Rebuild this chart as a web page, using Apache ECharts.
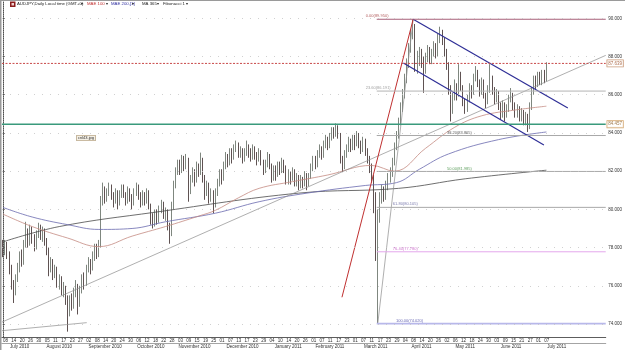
<!DOCTYPE html>
<html><head><meta charset="utf-8">
<script src="https://cdn.jsdelivr.net/npm/echarts@6/dist/echarts.min.js"></script>
<style>html,body{margin:0;padding:0;background:#fff}#c{width:625px;height:350px}</style>
</head><body><div id="c"></div>
<script>
// ---------- DATA ----------
const startDate = '2010-07-08';
const futureBars = 28;
// [open, close, low, high]
const candles = [
[78.1,77.9,77.5,78.4],[77.9,78.2,77.6,78.4],[78.2,77.6,77.4,78.3],[77.6,76.9,76.6,77.8],[76.9,76.1,75.8,77.1],
[76.1,75.7,75.1,76.3],[75.7,76.4,75.5,76.6],[76.4,76.9,76.2,77.2],[76.9,77.6,76.7,77.8],[77.6,77.3,77.0,77.9],
[77.3,78.2,77.1,78.4],[78.2,78.8,78.0,79.35],[78.8,78.3,78.0,79.0],[78.3,78.9,78.1,79.2],[78.9,78.5,78.2,79.1],
[78.5,78.0,77.8,78.7],[78.0,78.7,77.9,78.9],[78.7,79.1,78.5,79.3],[79.1,78.6,78.4,79.2],[78.6,78.9,78.3,79.1],
[78.9,78.3,78.1,79.0],[78.3,77.9,77.6,78.5],[77.9,76.9,76.5,78.0],[76.9,77.3,76.7,77.5],[77.3,76.6,76.3,77.4],
[76.6,76.9,76.4,77.1],[76.9,76.1,75.9,77.0],[76.1,76.4,75.8,76.6],[76.4,75.8,75.5,76.5],[75.8,75.9,75.4,76.2],
[75.9,75.3,75.0,76.0],[75.3,74.6,73.6,75.5],[74.6,75.3,74.4,75.5],[75.3,74.9,74.7,75.6],[74.9,75.7,74.8,75.9],
[75.7,76.0,75.4,76.3],[76.0,75.1,74.5,76.1],[75.1,75.8,74.9,76.0],[75.8,76.4,75.6,76.6],[76.4,76.1,75.8,76.7],
[76.1,76.9,76.0,77.1],[76.9,77.3,76.7,77.5],[77.3,76.9,76.6,77.4],[76.9,77.5,76.8,77.8],[77.5,78.0,77.3,78.2],
[78.0,77.7,77.4,78.2],[77.7,78.2,77.5,78.4],[78.2,80.4,78.0,80.7],[80.4,81.0,80.2,81.4],[81.0,80.6,80.3,81.2],
[80.6,80.9,80.4,81.1],[80.9,81.2,80.7,81.4],[81.2,80.7,80.5,81.3],[80.7,80.4,80.1,80.9],[80.4,80.9,80.3,81.1],
[80.9,80.3,80.0,81.0],[80.3,80.8,80.2,81.0],[80.8,81.2,80.6,81.3],[81.2,80.8,80.6,81.3],[80.8,80.5,80.2,80.9],
[80.5,81.0,80.3,81.2],[81.0,80.6,80.4,81.1],[80.6,80.3,80.0,80.8],[80.3,80.9,80.2,81.1],[80.9,81.2,80.7,81.4],
[81.2,80.7,80.5,81.3],[80.7,80.4,80.1,80.9],[80.4,80.8,80.2,81.0],[80.8,80.5,80.2,80.9],[80.5,80.9,80.3,81.1],
[80.9,80.2,80.0,81.0],[80.2,79.5,79.2,80.3],[79.5,79.3,79.0,79.8],[79.3,79.8,79.1,80.0],[79.8,79.4,79.2,80.0],
[79.4,80.0,79.3,80.2],[80.0,80.3,79.8,80.5],[80.3,79.7,79.5,80.4],[79.7,79.9,79.4,80.1],[79.9,79.1,78.9,80.0],
[79.1,78.7,78.2,79.3],[78.7,80.2,78.6,80.4],[80.2,81.3,80.0,81.5],[81.3,82.0,81.1,82.2],[82.0,82.4,81.8,82.6],
[82.4,82.1,81.8,82.6],[82.1,82.7,81.9,82.85],[82.7,82.3,82.0,82.8],[82.3,82.6,82.1,82.9],[82.6,81.0,80.4,82.7],
[81.0,81.6,80.8,81.8],[81.6,82.0,81.4,82.2],[82.0,81.5,81.2,82.1],[81.5,82.3,81.4,82.5],[82.3,81.9,81.7,82.4],
[81.9,82.6,81.8,82.97],[82.6,81.6,81.4,82.7],[81.6,80.9,80.5,81.8],[80.9,81.3,80.7,81.5],[81.3,80.6,80.3,81.4],
[80.6,80.9,80.4,81.1],[80.9,80.2,79.8,81.0],[80.2,80.9,80.1,81.1],[80.9,81.4,80.7,81.6],[81.4,81.9,81.2,82.1],
[81.9,81.6,81.3,82.1],[81.6,82.3,81.5,82.5],[82.3,82.8,82.1,83.0],[82.8,82.4,82.2,82.9],[82.4,83.0,82.3,83.2],
[83.0,82.7,82.4,83.2],[82.7,83.2,82.6,83.4],[83.2,83.4,83.0,83.6],[83.4,82.9,82.7,83.5],[82.9,83.1,82.7,83.3],
[83.1,82.7,82.4,83.2],[82.7,83.0,82.5,83.2],[83.0,83.3,82.8,83.6],[83.3,83.0,82.7,83.4],[83.0,82.8,82.5,83.2],
[82.8,83.2,82.6,83.4],[83.2,82.9,82.6,83.3],[82.9,82.6,82.3,83.0],[82.6,83.0,82.5,83.2],[83.0,82.5,82.3,83.1],
[82.5,82.1,81.8,82.6],[82.1,82.4,81.9,82.6],[82.4,82.8,82.2,83.0],[82.8,82.3,82.1,82.9],[82.3,81.7,81.4,82.4],
[81.7,82.1,81.5,82.3],[82.1,81.8,81.5,82.3],[81.8,82.3,81.7,82.5],[82.3,82.0,81.8,82.5],[82.0,82.5,81.9,82.7],
[82.5,82.2,81.9,82.6],[82.2,81.5,81.3,82.3],[81.5,81.9,81.3,82.1],[81.9,81.6,81.3,82.0],[81.6,82.0,81.5,82.2],
[82.0,81.4,81.2,82.1],[81.4,81.7,81.2,81.9],[81.7,81.2,81.0,81.8],[81.2,81.6,81.1,81.8],[81.6,81.3,81.1,81.7],
[81.3,81.8,81.2,82.0],[81.8,81.3,81.0,81.9],[81.3,81.7,81.2,81.9],[81.7,82.2,81.6,82.4],[82.2,82.6,82.0,82.8],
[82.6,82.3,82.1,82.8],[82.3,82.9,82.2,83.1],[82.9,83.2,82.7,83.4],[83.2,82.8,82.6,83.3],[82.8,83.4,82.7,83.6],
[83.4,83.7,83.2,83.9],[83.7,83.3,83.1,83.8],[83.3,83.8,83.2,84.0],[83.8,84.1,83.6,84.3],[84.1,83.9,83.7,84.3],
[83.9,84.3,83.8,84.5],[84.3,83.9,83.7,84.4],[83.9,82.6,82.4,84.0],[82.6,82.3,81.95,82.8],[82.3,82.9,82.1,83.1],
[82.9,83.2,82.7,83.4],[83.2,83.6,83.0,83.8],[83.6,83.2,83.0,83.7],[83.2,83.7,83.1,83.9],[83.7,83.4,83.1,83.9],
[83.4,83.9,83.3,84.1],[83.9,83.5,83.2,84.0],[83.5,83.1,82.9,83.6],[83.1,83.6,83.0,83.8],[83.6,83.0,82.8,83.7],
[83.0,82.7,82.4,83.2],[82.7,82.2,81.9,82.8],[82.2,81.5,81.4,82.4],[81.5,80.6,79.8,81.8],[80.6,78.0,77.3,80.9],
[78.0,79.6,74.02,80.0],[79.6,80.6,79.3,80.9],[80.6,81.0,80.3,81.3],[81.0,80.7,80.4,81.2],[80.7,81.3,80.5,81.5],
[81.3,81.6,81.0,81.9],[81.6,81.9,81.4,82.2],[81.9,82.5,81.7,82.7],[82.5,83.3,82.3,83.5],[83.3,83.9,83.1,84.1],
[83.9,84.6,83.7,84.8],[84.6,85.3,84.4,85.6],[85.3,86.1,85.1,86.3],[86.1,86.9,85.8,87.1],[86.9,87.6,86.6,87.9],
[87.6,88.5,87.4,88.7],[88.5,89.2,88.2,89.4],[89.2,89.6,88.9,89.95],[89.6,87.6,87.2,89.7],[87.6,87.9,87.1,88.3],
[87.9,88.3,87.5,88.5],[88.3,87.7,87.4,88.4],[87.7,87.3,86.1,88.0],[87.3,88.0,87.1,88.2],[88.0,88.4,87.7,88.6],
[88.4,87.8,87.6,88.5],[87.8,88.2,87.6,88.4],[88.2,88.6,88.0,88.8],[88.6,88.1,87.9,88.7],[88.1,88.9,88.0,89.2],
[88.9,89.3,88.7,89.56],[89.3,88.9,88.6,89.4],[88.9,88.3,88.0,89.0],[88.3,87.6,87.3,88.4],[87.6,86.3,86.0,87.7],
[86.3,85.2,84.6,86.5],[85.2,85.9,85.0,86.1],[85.9,86.5,85.7,86.8],[86.5,86.0,85.7,86.6],[86.0,87.1,85.9,87.6],
[87.1,86.4,86.2,87.2],[86.4,85.6,85.4,86.5],[85.6,85.2,85.0,85.8],[85.2,85.8,85.1,86.0],[85.8,86.4,85.6,86.6],
[86.4,86.1,85.8,86.5],[86.1,86.9,86.0,87.1],[86.9,87.2,86.7,87.5],[87.2,86.6,86.4,87.3],[86.6,86.2,85.9,86.8],
[86.2,86.7,86.0,86.9],[86.7,86.0,85.8,86.8],[86.0,85.6,85.3,86.1],[85.6,86.3,85.5,86.5],[86.3,86.9,86.1,87.6],
[86.9,86.2,86.0,87.0],[86.2,85.8,85.5,86.4],[85.8,86.1,85.6,86.3],[86.1,85.4,85.2,86.2],[85.4,85.0,84.7,85.6],
[85.0,85.5,84.8,85.7],[85.5,84.9,84.6,85.6],[84.9,85.3,84.8,85.5],[85.3,85.8,85.1,86.0],[85.8,86.0,85.6,86.35],
[86.0,85.4,85.2,86.1],[85.4,85.0,84.8,85.6],[85.0,85.3,84.8,85.5],[85.3,84.8,84.6,85.4],[84.8,85.1,84.6,85.3],
[85.1,84.6,84.4,85.2],[84.6,84.9,84.4,85.1],[84.9,84.3,84.05,85.0],[84.3,85.4,84.2,85.6],[85.4,86.2,85.2,86.4],
[86.2,86.8,86.0,87.0],[86.8,86.5,86.3,87.0],[86.5,87.0,86.4,87.2],[87.0,86.7,86.5,87.2],[86.7,87.2,86.5,87.3],
[87.2,86.8,86.6,87.3],[86.8,87.64,86.7,87.7]
];
// moving averages: [barIndex, value]
const ema100 = [[0,79.75],[14,79.1],[31,78.5],[46,78.05],[62,78.6],[78,79.1],[94,79.65],[102,79.95],[113,80.6],[123,81.1],[139,81.45],[156,81.8],[177,82.3],[188,82.0],[203,83.2],[217,84.3],[230,84.9],[246,85.2],[261,85.4]];
const ema200 = [[0,80.1],[14,79.6],[31,79.2],[46,78.95],[62,79.0],[78,79.35],[102,79.8],[123,80.4],[146,80.85],[174,81.25],[189,81.4],[200,82.1],[214,82.9],[238,83.65],[261,84.05]];
const ma365 = [[0,78.3],[27,79.1],[73,79.85],[142,80.85],[190,81.1],[222,81.6],[261,82.05]];
// drawn objects: [barIndex, price]
const longTrend = [[-0.5,74.1],[289.5,88.06]];
const baseTrend = [[-0.5,73.65],[40.2,74.07]];
const steepTrend = [[162.8,75.4],[197,89.95]];
const fibDiagonal = [[180,74.02],[197,89.95]];
const channelUpper = [[197,89.95],[271.3,85.31]];
const channelLower = [[192.3,87.66],[259.8,83.37]];
const fibLevels = ['0.00','23.60','38.20','50.00','61.80','76.40','100.00'];
const fibPrices = [89.950,86.191,83.865,81.985,80.105,77.780,74.020];
const fibStartBar = 179.5;
const supportLevel = 84.457;
const lastPrice = 87.639;
const yTicks = [74,76,78,80,82,84,86,88,90];
const monthLabels = ['July 2010','August 2010','September 2010','October 2010','November 2010','December 2010','January 2011','February 2011','March 2011','April 2011','May 2011','June 2011','July 2011'];

// ---------- STYLE / LAYOUT ----------
const FONT = 'Liberation Sans, Arial, sans-serif';
const FS = 4.5;
const TF = '4.3px ' + FONT;
const fibLineColors = ['#a8607a','#b4b4b4','#a8a8a8','#a8a8a8','#a8a8a8','#e4a8ec','#b8b8ea'];
const fibLineWidths = [1,1,1,1,1,1,1.6];
const fibLabelColors = ['#a03838','#8a8a8a','#333333','#3a8a3a','#5a5a9a','#c050c0','#4040a0'];
const fibLabelAnchor = [174,174,213,213,187,187,188.5];

// ---------- BUILD ----------
const total = candles.length + futureBars;
const dates = [];
{
  const d = new Date(startDate + 'T00:00:00Z');
  while (dates.length < total) {
    const wd = d.getUTCDay();
    if (wd !== 0 && wd !== 6) dates.push(d.toISOString().slice(0, 10));
    d.setUTCDate(d.getUTCDate() + 1);
  }
}
const segs = [];
dates.forEach((s, i) => {
  const m = s.slice(0, 7);
  if (!segs.length || segs[segs.length - 1].m !== m) segs.push({m, a: i, b: i});
  else segs[segs.length - 1].b = i;
});
const usedSegs = segs.slice(0, monthLabels.length);
const monthStart = new Set(usedSegs.slice(1).map(s => s.a));
const monthMid = new Map(usedSegs.map((s, k) => [Math.floor((s.a + s.b) / 2), monthLabels[k]]));

const xMax = total - 0.5;
function line(data, color, width, extra) {
  return Object.assign({
    type: 'line', xAxisIndex: 2, yAxisIndex: 0, data, symbol: 'none', silent: true,
    lineStyle: {color, width}, z: 4, animation: false
  }, extra || {});
}
const series = [];
series.push({
  type: 'candlestick', xAxisIndex: 0, yAxisIndex: 0, data: candles, barWidth: 1.3, animation: false, z: 3,
  itemStyle: {color: '#bcc2bc', borderColor: '#5e685e', color0: '#362222', borderColor0: '#362626', borderWidth: 0.8},
  markLine: {silent: true, symbol: 'none', animation: false, label: {show: false},
    lineStyle: {color: '#c4c4c4', width: 0.8, type: [1, 7]},
    data: yTicks.map(v => ({yAxis: v}))}
});
series.push(line(ma365, '#4a4a4a', 0.8, {smooth: 0.4}));
series.push(line(ema200, '#6a6aae', 0.8, {smooth: 0.4}));
series.push(line(ema100, '#c48a82', 0.8, {smooth: 0.4}));
series.push(line(longTrend, '#8c8c8c', 0.7));
series.push(line(baseTrend, '#8c8c8c', 0.7));
series.push(line(fibDiagonal, '#8c8c8c', 0.7));
series.push(line(steepTrend, '#c03030', 1));
series.push(line(channelUpper, '#2e2e96', 1.2));
series.push(line(channelLower, '#2e2e96', 1.2));
fibPrices.forEach((p, k) => series.push(line([[fibStartBar, p], [xMax, p]], fibLineColors[k], fibLineWidths[k])));
series.push(line([[-0.5, supportLevel], [xMax, supportLevel]], '#3a9a7c', 1.4));
series.push(line([[-0.5, lastPrice], [xMax, lastPrice]], '#c84848', 1, {lineStyle: {color: '#c84848', width: 1, type: [2, 1.5]}}));
series.push({
  type: 'scatter', xAxisIndex: 2, yAxisIndex: 0, symbolSize: 1, silent: true, animation: false, z: 6,
  itemStyle: {color: 'rgba(0,0,0,0)'},
  data: fibPrices.map((p, k) => ({
    value: [fibLabelAnchor[k], p],
    label: {show: true, position: 'right', distance: 0, offset: [0, -3],
      formatter: fibLevels[k] + '(' + p.toFixed(3) + ')', fontSize: 4, fontFamily: FONT, color: fibLabelColors[k]}
  }))
});
series.push({
  type: 'scatter', xAxisIndex: 2, yAxisIndex: 0, symbolSize: 1, silent: true, animation: false, clip: false, z: 7,
  itemStyle: {color: 'rgba(0,0,0,0)'},
  data: [
    {value: [xMax, lastPrice], label: {show: true, position: 'right', distance: 1, formatter: lastPrice.toFixed(3),
      fontSize: FS, fontFamily: FONT, color: '#9a4a20', backgroundColor: '#fff', borderColor: '#b87a50', borderWidth: 0.7, padding: [1, 1, 0.5, 1]}},
    {value: [xMax, supportLevel], label: {show: true, position: 'right', distance: 1, formatter: supportLevel.toFixed(3),
      fontSize: FS, fontFamily: FONT, color: '#8a5a20', backgroundColor: '#fff', borderColor: '#c8904a', borderWidth: 0.7, padding: [1, 1, 0.5, 1]}}
  ]
});

const option = {
  backgroundColor: '#fff',
  animation: false,
  grid: {left: 2, right: 17, top: 2, bottom: 13, containLabel: false},
  xAxis: [
    {type: 'category', data: dates, boundaryGap: true,
      axisLine: {lineStyle: {color: '#333', width: 0.8}},
      axisTick: {interval: (i) => i % 4 === 0, length: 6, lineStyle: {color: '#555', width: 0.6}},
      axisLabel: {interval: (i) => i % 4 === 0 && i < candles.length, formatter: (v) => v.slice(8), fontSize: FS,
        fontFamily: FONT, color: '#333', align: 'left', margin: 1.2},
      splitLine: {show: false}},
    {type: 'category', data: dates, boundaryGap: true, position: 'bottom', offset: 6,
      axisLine: {lineStyle: {color: '#666', width: 0.6}},
      axisTick: {interval: (i) => monthStart.has(i), length: 7, lineStyle: {color: '#555', width: 0.6}},
      axisLabel: {interval: (i) => monthMid.has(i), formatter: (v, i) => monthMid.get(i) || '', fontSize: FS,
        fontFamily: FONT, color: '#333', margin: 1.2},
      splitLine: {show: false}},
    {type: 'value', min: -0.5, max: xMax, show: false}
  ],
  yAxis: [{
    type: 'value', position: 'right', min: 73.32, max: 90.853,
    axisLine: {show: true, lineStyle: {color: '#222', width: 0.8, type: [1, 1]}},
    axisTick: {show: true, length: 2, customValues: yTicks, lineStyle: {color: '#444', width: 0.6}},
    axisLabel: {customValues: yTicks, formatter: (v) => v.toFixed(3), fontSize: FS, fontFamily: FONT, color: '#333', margin: 2.5},
    splitLine: {show: false}
  }],
  graphic: [
    {type: 'rect', shape: {x: 0, y: 0, width: 625, height: 1}, style: {fill: '#9a9a9a'}, silent: true},
    {type: 'rect', shape: {x: 0, y: 0, width: 1.5, height: 350}, style: {fill: '#9a9a9a'}, silent: true},
    {type: 'rect', shape: {x: 10, y: 1.5, width: 5.5, height: 5.5}, style: {fill: '#8a1c1c'}, silent: true},
    {type: 'rect', shape: {x: 11.5, y: 3, width: 2.5, height: 2.5}, style: {fill: '#f0d0d0'}, silent: true},
    {type: 'text', x: 17, y: 2.2, silent: true, style: {text: 'AUDJPY,Daily Local time (GMT+0)', font: TF, fill: '#222'}},
    {type: 'text', x: 81, y: 2.2, silent: true, style: {text: '\u25be', font: TF, fill: '#222'}},
    {type: 'text', x: 87, y: 2.2, silent: true, style: {text: 'MAE 100', font: TF, fill: '#c03030'}},
    {type: 'text', x: 106, y: 2.2, silent: true, style: {text: '\u25be', font: TF, fill: '#222'}},
    {type: 'text', x: 111, y: 2.2, silent: true, style: {text: 'MAE 200,[1]', font: TF, fill: '#3030a0'}},
    {type: 'text', x: 132, y: 2.2, silent: true, style: {text: '\u25be', font: TF, fill: '#222'}},
    {type: 'text', x: 142, y: 2.2, silent: true, style: {text: 'MA 365', font: TF, fill: '#222'}},
    {type: 'text', x: 157, y: 2.2, silent: true, style: {text: '\u25be', font: TF, fill: '#222'}},
    {type: 'text', x: 163, y: 2.2, silent: true, style: {text: 'Fibonacci 1', font: TF, fill: '#222'}},
    {type: 'text', x: 186, y: 2.2, silent: true, style: {text: '\u25be', font: TF, fill: '#222'}},
    {type: 'text', x: 77, y: 135.5, silent: true, style: {text: 'cnl43.jpg', font: '4px ' + FONT, fill: '#333',
      backgroundColor: '#f4efe4', borderColor: '#a08860', borderWidth: 0.6, padding: [0.5, 1]}}
  ],
  series
};
const chart = echarts.init(document.getElementById('c'), null, {renderer: 'canvas'});
chart.setOption(option);
</script></body></html>
